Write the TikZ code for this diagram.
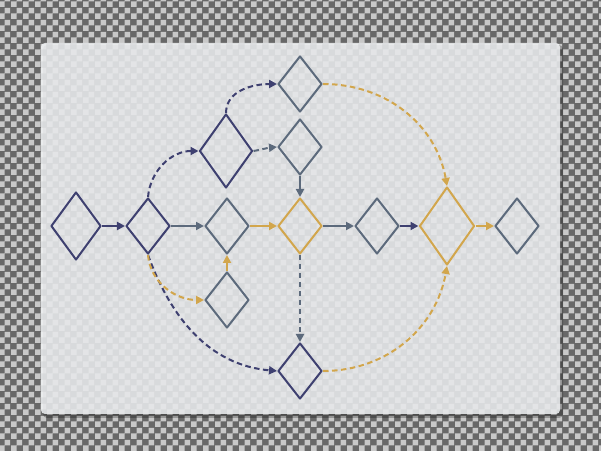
\documentclass[tikz,border=0pt]{standalone}
\usepackage{tikz}
\usetikzlibrary{shapes.geometric, arrows.meta, patterns, positioning}
\definecolor{navy}{HTML}{3E4070}
\definecolor{slate}{HTML}{5C6A7C}
\definecolor{gold}{HTML}{D2A64C}
\definecolor{checkdark}{HTML}{686868}
\definecolor{checklight}{HTML}{C8C8C8}
\definecolor{panel}{HTML}{F0F2F4}
\pgfdeclarepatternformonly{checks}{\pgfpointorigin}{\pgfqpoint{12bp}{12bp}}{\pgfqpoint{12bp}{12bp}}{
  \pgfpathrectangle{\pgfpointorigin}{\pgfqpoint{6bp}{6bp}}
  \pgfpathrectangle{\pgfqpoint{6bp}{6bp}}{\pgfqpoint{6bp}{6bp}}
  \pgfusepath{fill}
}
\tikzset{
    box/.style={diamond, draw=#1, line width=2bp, line join=round,
        inner sep=0pt, minimum width=44bp, minimum height=56bp},
    flow/.style={draw=#1, line width=2bp, -{Triangle[length=8bp,width=8bp]}},
    jump/.style={flow=#1, dash pattern=on 5.5bp off 3.5bp}
}

\begin{document}
\begin{tikzpicture}[x=1bp, y=1bp]
    \useasboundingbox (0,0) rectangle (601,451);
    \fill[checkdark] (0,0) rectangle (601,451);
    \fill[pattern=checks, pattern color=checklight] (0,0) rectangle (601,451);
    \fill[black, opacity=0.25, rounded corners=4bp] (43,33) rectangle (563,406);
    \fill[panel, opacity=0.86, rounded corners=4bp] (41,37) rectangle (560,408);

    \node[box=navy, minimum width=50bp, minimum height=68bp] (start) at (76,225) {};
    \node[box=navy] (fork) at (148,225) {};
    \node[box=slate] (mid) at (227,225) {};
    \node[box=slate] (top) at (300,367) {};
    \node[box=navy, minimum width=53bp, minimum height=74bp] (upper) at (226,300) {};
    \node[box=slate] (upperright) at (300,304) {};
    \node[box=gold] (gate) at (300,225) {};
    \node[box=slate] (next) at (377,225) {};
    \node[box=gold, minimum width=55bp, minimum height=78bp] (join) at (447,225) {};
    \node[box=slate] (finish) at (517,225) {};
    \node[box=slate] (lower) at (227,151) {};
    \node[box=navy] (bottom) at (300,80) {};

    \draw[flow=navy] (start) -- (fork);
    \draw[flow=slate] (fork) -- (mid);
    \draw[flow=gold] (mid) -- (gate);
    \draw[flow=slate] (gate) -- (next);
    \draw[flow=navy] (next) -- (join);
    \draw[flow=gold] (join) -- (finish);
    \draw[flow=slate] (upperright) -- (gate);
    \draw[flow=gold] (lower) -- (mid);

    \draw[jump=navy] (fork.north) to[out=85, in=180] (upper.west);
    \draw[jump=navy] (upper.north) to[out=90, in=180] (top.west);
    \draw[jump=slate] (upper.east) to[out=10, in=185] (upperright.west);
    \draw[jump=slate] (gate) -- (bottom);
    \draw[jump=navy] (fork.south) to[out=-70, in=175] (bottom.west);
    \draw[jump=gold] (fork.south) to[out=-85, in=180] (lower.west);
    \draw[jump=gold] (top.east) to[out=0, in=100] (join.north);
    \draw[jump=gold] (bottom.east) to[out=0, in=-100] (join.south);
\end{tikzpicture}
\end{document}
